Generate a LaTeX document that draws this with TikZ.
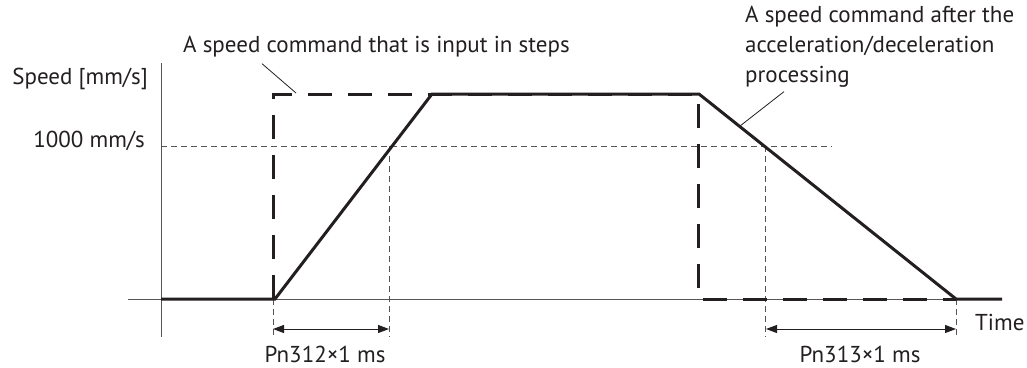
\documentclass[tikz,border=0pt]{standalone}
\usepackage{fontspec}
\setmainfont{PT Sans}
\usepackage{tikz}
\usetikzlibrary{arrows.meta,positioning,calc}
\definecolor{ink}{HTML}{231F20}
\definecolor{axisgray}{HTML}{555555}
\tikzset{
  axisline/.style={line width=1pt,axisgray},
  profile/.style={line width=3pt,ink,line join=miter},
  stepcmd/.style={line width=3pt,ink,dash pattern=on 24pt off 16pt},
  guide/.style={line width=0.8pt,axisgray,dash pattern=on 6pt off 4pt},
  leader/.style={line width=0.8pt,ink},
  span/.style={{Triangle[length=11pt,width=8pt]}-{Triangle[length=11pt,width=8pt]},
               line width=1pt,ink},
  lbl/.style={font=\fontsize{23}{30}\selectfont,text=ink,inner sep=0pt},
}

\begin{document}
\begin{tikzpicture}[x=1pt,y=-1pt]
  \useasboundingbox (0,0) rectangle (1027,367);

  % ---- Axes ----
  \coordinate (ytop) at (161,63);
  \coordinate (ybot) at (161,337);
  \coordinate (xl) at (128,299);
  \coordinate (xr) at (1002,299);
  \draw[axisline] (ytop) -- (ybot);
  \draw[axisline] (xl) -- (xr);

  % ---- Guide lines ----
  \coordinate (lvl) at (161,146);
  \coordinate (lvlend) at (832,146);
  \draw[guide] (lvl) -- (lvlend);
  \draw[guide] (389,146) -- (389,337);
  \draw[guide] (765,146) -- (765,337);
  \draw[guide] (273,299) -- (273,337);
  \draw[guide] (956,299) -- (956,337);

  % ---- Step command (dashed) ----
  \coordinate (s1) at (273,299);
  \coordinate (s2) at (273,94);
  \coordinate (s3) at (698,94);
  \coordinate (s4) at (698,299);
  \coordinate (s5) at (956,299);
  \draw[stepcmd] (s1) -- (s2) -- (s3) -- (s4) -- (s5);

  % ---- Ramped command (solid) ----
  \coordinate (p0) at (161,299);
  \coordinate (p1) at (275,299);
  \coordinate (p2) at (432,94);
  \coordinate (p3) at (699,94);
  \coordinate (p4) at (956,299);
  \coordinate (p5) at (1002,299);
  \draw[profile] (p0) -- (p1) -- (p2) -- (p3) -- (p4) -- (p5);

  % ---- Time spans ----
  \coordinate (accA) at (273,329);
  \coordinate (accB) at (389,329);
  \coordinate (decA) at (766,329);
  \coordinate (decB) at (956,329);
  \draw[span] (accA) -- (accB);
  \draw[span] (decA) -- (decB);

  % ---- Labels ----
  \node[lbl,anchor=east] (speed) at (148,79) {Speed [mm/s]};
  \node[lbl,anchor=east] (level) at (145,141) {1000 mm/s};
  \node[lbl,anchor=west] (time) at (975,322) {Time};
  \node[lbl,anchor=base] (acclbl) at (325,362) {Pn312×1 ms};
  \node[lbl,anchor=base] (declbl) at (860,362) {Pn313×1 ms};

  \node[lbl,anchor=west] (stepnote) at (183,47)
    {A speed command that is input in steps};
  \node[lbl,anchor=north west,align=left] (afternote) at (745,6)
    {A speed command after the\\acceleration/deceleration\\processing};

  % ---- Leader lines ----
  \coordinate (stepTip) at (296,93);
  \coordinate (decTip) at (740,126);
  \draw[leader] ([xshift=79pt,yshift=-6pt]stepnote.south west) -- (stepTip);
  \draw[leader] ([xshift=39pt,yshift=-4pt]afternote.south west) -- (decTip);
\end{tikzpicture}
\end{document}
